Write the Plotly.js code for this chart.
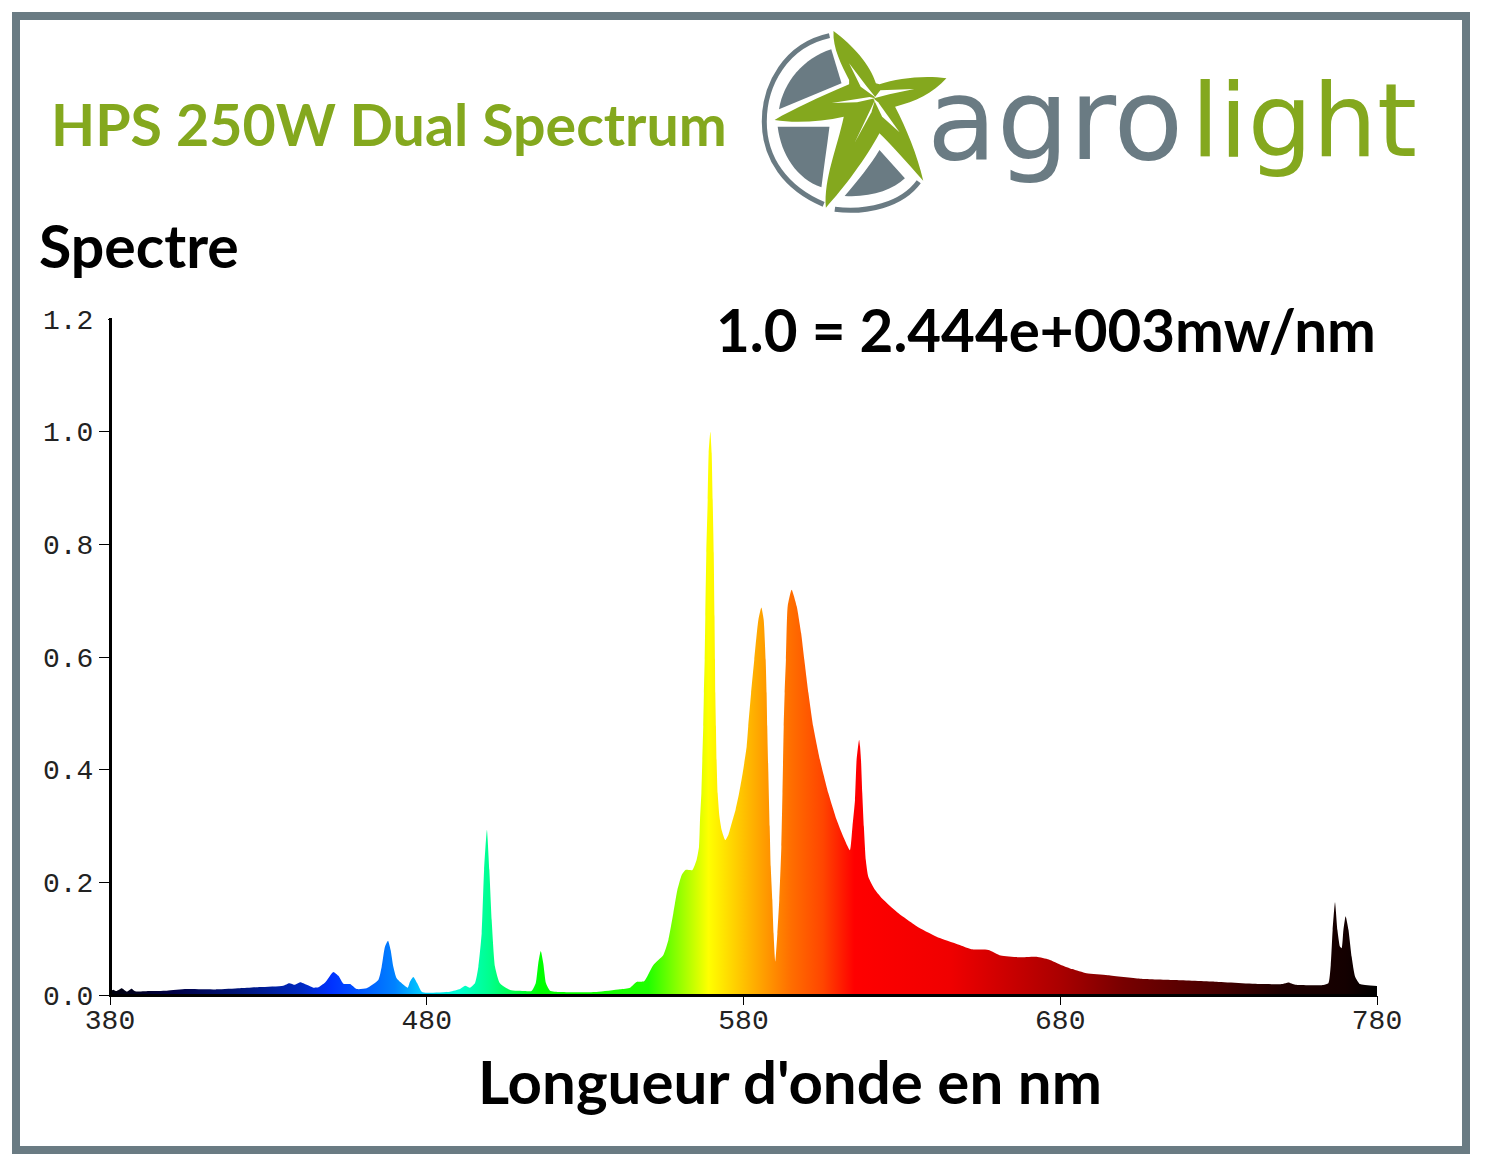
<!DOCTYPE html>
<html><head><meta charset="utf-8">
<script src="https://cdn.plot.ly/plotly-3.0.1.min.js"></script>
<style>html,body{margin:0;padding:0;background:#fff}</style></head>
<body><div id="chart" style="width:1491px;height:1175px"></div>
<script>
// ---- data ----
const wavelengths = [380,381,382,383.7,385.3,386.8,387.9,392.6,397.9,404.2,413.7,421,427.4,434.7,436.6,438.4,440,442.1,444.2,445.8,447.9,450.5,452.1,453.7,455.8,457.9,461,464.7,465.77,466.8,467.77,468.6,469.45,470.5,472.1,474,474.7,475.77,477,478.4,480,487.34,490.5,492.1,493.66,495.2,496.3,497.34,498.1,499,499.76,500.5,501.55,503.1,506.3,511,513.1,514.4,515.2,516,516.8,517.65,518.9,522.07,533.6,541,544.2,546.26,548.6,551.5,554.7,556.3,557.84,559.1,560.5,561.7,563.9,565.2,565.96,566.27,566.7,567,567.3,567.5,567.75,567.95,568.27,568.7,569,569.53,569.95,570.27,570.6,570.85,571,571.1,571.3,571.5,571.85,572.4,573.1,573.95,574.27,575.2,576.27,577.5,578.6,579.75,581,581.5,582.4,583.4,584.7,585.64,586.37,587,587.3,587.5,587.85,588.27,588.6,589.1,589.5,590.04,590.7,591.3,591.95,592.3,592.7,593,593.4,593.95,595.2,596.8,598.2,599.2,600.5,602,604.15,606.8,609.4,611.5,613.6,614.4,615.2,615.7,616.3,616.5,616.8,617.1,617.5,618,618.6,619.4,621.5,624,628.5,635.3,642,648.8,652.2,657.3,661.2,666.8,672.5,676.4,680.4,683.8,688.3,695,705.2,716.4,728.8,743.5,750.3,752,754.2,763.06,764.64,765.4,766,766.74,767.5,768.3,768.85,769.4,770.1,771,772,773.1,774.6,780];
const intensities = [0.006,0.0095,0.007,0.012,0.006,0.011,0.0065,0.007,0.0077,0.0107,0.010,0.012,0.014,0.0166,0.021,0.018,0.0225,0.018,0.013,0.0136,0.022,0.041,0.034,0.020,0.0195,0.0105,0.0118,0.0266,0.0503,0.0858,0.0965,0.08,0.0503,0.0296,0.0207,0.013,0.0236,0.032,0.0207,0.0059,0.004,0.0059,0.0106,0.0165,0.013,0.0207,0.0503,0.1095,0.222,0.293,0.222,0.133,0.0503,0.0207,0.0088,0.007,0.007,0.0207,0.056,0.078,0.056,0.0207,0.0077,0.0053,0.0054,0.0101,0.013,0.023,0.0243,0.053,0.071,0.098,0.145,0.186,0.213,0.222,0.222,0.24,0.263,0.311,0.358,0.417,0.477,0.536,0.595,0.672,0.785,0.879,0.962,1.0,0.962,0.879,0.785,0.672,0.595,0.536,0.477,0.417,0.358,0.317,0.293,0.278,0.275,0.284,0.305,0.329,0.358,0.394,0.441,0.477,0.536,0.595,0.666,0.688,0.666,0.595,0.536,0.477,0.394,0.299,0.228,0.169,0.109,0.0593,0.109,0.169,0.263,0.358,0.477,0.536,0.595,0.69,0.7193,0.69,0.642,0.595,0.536,0.477,0.417,0.358,0.311,0.281,0.257,0.299,0.346,0.417,0.447,0.453,0.441,0.417,0.358,0.299,0.24,0.21,0.187,0.17,0.147,0.12,0.101,0.0876,0.081,0.08,0.07,0.067,0.068,0.063,0.053,0.046,0.0385,0.035,0.029,0.0266,0.0237,0.0195,0.0195,0.022,0.018,0.0178,0.0207,0.0533,0.1155,0.1646,0.1155,0.086,0.083,0.1155,0.14,0.1155,0.068,0.0326,0.0195,0.016];
const xTicks = [380,480,580,680,780];
const xTickLabels = ['380','480','580','680','780'];
const yTicks = [0,0.2,0.4,0.6,0.8,1.0,1.2];
const yTickLabels = ['0.0','0.2','0.4','0.6','0.8','1.0','1.2'];
const titleText = 'HPS 250W Dual Spectrum';
const subtitleText = 'Spectre';
const scaleText = '1.0 = 2.444e+003mw/nm';
const xAxisText = "Longueur d'onde en nm";

// ---- spectrum colour ramp ----
const rampNm = [380,400,420,440,450,470,478,490,500,516,550,569,585,595,605,615,645,680,700,730,750,770,780];
const rampColor = ['#00000a','#000046','#001478','#0028be','#0032ff','#0082ff','#00c8ff','#00ffd2','#00ff8c','#00ff00','#20ff00','#ffff00','#ffa500','#ff6e00','#ff4600','#ff0000','#f00000','#aa0000','#780000','#460000','#1e0000','#140000','#000000'];
const colorscale = rampNm.map((n,i)=>[(n-380)/400, rampColor[i]]);

// ---- page geometry ----
const L=110,R=1377,T=319,B=995;
const GREY='#6a7b83',GREEN='#84a81e';
const px=x=>(x-L)/(R-L), py=y=>(B-y)/(B-T);
const rect=(x0,y0,x1,y1,o)=>Object.assign({type:'rect',xref:'paper',yref:'paper',x0:px(x0),x1:px(x1),y0:py(y0),y1:py(y1),line:{width:0}},o);
// logo drawn in crop units, mapped to the page
const logo=d=>d.replace(/(-?[\d.]+)[ ,](-?[\d.]+)/g,(m,a,b)=>px(750+a/2.24)+','+py(15+b/3));
const path=(d,o)=>Object.assign({type:'path',xref:'paper',yref:'paper',path:logo(d),line:{width:0},layer:'above'},o);
const label=(text,x,y,size,color,extra)=>Object.assign({text,showarrow:false,xref:'paper',yref:'paper',x:px(x),y:py(y),xanchor:'left',yanchor:'middle',font:{family:'Lato',size,color,weight:700}},extra);

const shapes=[
 rect(16,16,1466,1150,{fillcolor:'rgba(0,0,0,0)',line:{color:GREY,width:8},layer:'below'}),
 rect(109,318,112,997,{fillcolor:'#000',layer:'above'}),
 rect(109,994,1377,997,{fillcolor:'#000',layer:'above'}),
 rect(99,317,108,321,{fillcolor:'#fff',layer:'above'}),
 path('M178,62 C80,90 32,210 32,320 C32,430 80,520 165,568',{line:{color:GREY,width:5}}),
 path('M190,583 C260,595 340,570 378,500',{line:{color:GREY,width:5}}),
 path('M182,103 L205,205 L65,283 C75,200 120,130 182,103 Z',{fillcolor:GREY}),
 path('M62,335 L178,335 C172,400 165,460 160,517 C105,490 70,420 62,335 Z',{fillcolor:GREY}),
 path('M290,405 L347,490 C320,525 270,548 212,543 C240,500 270,450 290,405 Z',{fillcolor:GREY}),
 path('M187,48 C230,90 270,150 282,205 L290,208 C330,190 390,180 440,190 C410,235 370,260 325,275 C350,340 375,420 388,497 C350,440 320,395 290,355 C260,430 210,520 170,578 C165,490 195,400 210,305 C160,320 100,325 55,315 C100,280 150,250 222,208 L222,195 C205,150 185,100 187,48 Z',{fillcolor:GREEN}),
 path('M222,145 L262,215 L282,248 L248,215 Z',{fillcolor:'#fff'}),
 path('M368,222 L292,226 L278,250 L312,238 Z',{fillcolor:'#fff'}),
 path('M183,264 L268,246 L280,250 L240,262 Z',{fillcolor:'#fff'}),
 path('M335,352 L287,262 L276,250 L296,305 Z',{fillcolor:'#fff'}),
 path('M235,382 L280,255 L272,292 Z',{fillcolor:'#fff'})
];

const annotations=[
 label(titleText,49,124,57.3,GREEN),
 label(subtitleText,37,245,59,'#000'),
 label(scaleText,714,329,58.3,'#000'),
 label(xAxisText,476,1081,60,'#000'),
 label('agro',925,119,114,GREY,{font:{family:'DejaVu Sans',size:114,color:GREY,weight:400}}),
 label('light',1189,120,102,GREEN,{font:{family:'DejaVu Sans',size:102,color:GREEN,weight:400}})
];

const tickFont={family:'Liberation Mono',size:28,color:'#222'};
const trace={type:'scatter',mode:'lines',x:wavelengths,y:intensities,fill:'tozeroy',
 line:{width:0,shape:'spline',smoothing:0.5,simplify:false},
 fillgradient:{type:'horizontal',start:380,stop:780,colorscale},hoverinfo:'skip'};
const layout={width:1491,height:1175,showlegend:false,hovermode:false,
 paper_bgcolor:'#fff',plot_bgcolor:'#fff',
 margin:{l:L,r:1491-R,t:T,b:1175-B,pad:0},
 xaxis:{range:[380,780],tickmode:'array',tickvals:xTicks,ticktext:xTickLabels,showgrid:false,zeroline:false,
  showline:false,ticks:'outside',ticklen:9,tickwidth:1,tickcolor:'#000',tickangle:0,tickfont:tickFont,ticklabelstandoff:-10,automargin:false},
 yaxis:{range:[0,1.2],tickmode:'array',tickvals:yTicks,ticktext:yTickLabels,showgrid:false,zeroline:false,
  showline:false,ticks:'outside',ticklen:10,tickwidth:1,tickcolor:'#000',tickfont:tickFont,ticklabelstandoff:0,automargin:false},
 shapes,annotations};
Plotly.newPlot('chart',[trace],layout,{displayModeBar:false,staticPlot:true});
</script></body></html>
